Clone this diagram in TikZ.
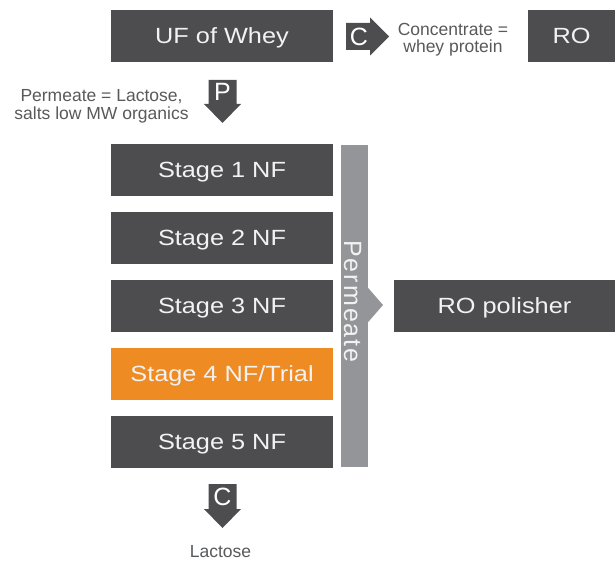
\documentclass[tikz,border=0pt]{standalone}
\usepackage{fontspec}
\setmainfont{Liberation Sans}
\newfontfamily\boxfont[FakeStretch=1.15]{Liberation Sans}
\definecolor{darkbox}{RGB}{77,77,79}
\definecolor{orangebox}{RGB}{238,139,35}
\definecolor{barcol}{RGB}{147,149,152}
\definecolor{boxtext}{RGB}{242,242,242}
\definecolor{lbltext}{RGB}{88,89,91}
\newcommand\spc{\kern2pt}
\begin{document}
\begin{tikzpicture}[x=1pt,y=-1pt,
  box/.style={fill=darkbox, text=boxtext, minimum height=52pt, inner sep=0pt,
    text height=15.75pt, text depth=0pt, font=\boxfont\fontsize{22}{26}\selectfont},
  stagebox/.style={box, minimum width=222pt},
  lbl/.style={text=lbltext, font=\fontsize{17.5}{18}\selectfont, inner sep=0pt, anchor=base},
  letter/.style={text=white, font=\fontsize{25}{28}\selectfont, text height=18pt, text depth=0pt, inner sep=0pt},
  blockarrow/.style={fill=darkbox}]
\useasboundingbox (0,0) rectangle (615,561);

% top row
\node[stagebox] (uf) at (222,36) {UF of Whey};
\node[box, minimum width=87pt] (ro) at (571.5,36) {RO};
\fill[blockarrow] (346,23) -- (370,23) -- (370,17.5) -- (389,36.5) -- (370,55.5) -- (370,50) -- (346,50) -- cycle;
\node[letter] (cA) at (359,36.5) {C};
\node[lbl] (conc1) at (453,36) {Concentrate =};
\node[lbl] (conc2) at (453,53) {whey protein};

% P arrow
\fill[blockarrow] (208.5,80) -- (236.5,80) -- (236.5,104) -- (241,104) -- (222.5,123) -- (204,104) -- (208.5,104) -- cycle;
\node[letter] (pA) at (222.5,92) {P};
\node[lbl] (perm1) at (101.5,102) {Permeate = Lactose,};
\node[lbl] (perm2) at (101.5,120) {salts low MW organics};

% stages
\node[stagebox] (s1) at (222,170) {Stage 1 NF};
\node[stagebox] (s2) at (222,238) {Stage 2 NF};
\node[stagebox] (s3) at (222,306) {Stage 3 NF};
\node[stagebox, fill=orangebox] (s4) at (222,373.5) {Stage 4 NF/Trial};
\node[stagebox] (s5) at (222,442) {Stage 5 NF};

% permeate bar
\node[fill=barcol, minimum width=27pt, minimum height=322pt, inner sep=0pt] (bar) at (354.5,306) {};
\fill[barcol] (bar.east |- 0,288) -- (383,305) -- (bar.east |- 0,322) -- cycle;
\node[rotate=-90, text=boxtext, inner sep=0pt, text height=18pt, text depth=0pt,
  font=\fontsize{25}{28}\selectfont] (permtxt) at (353,301.5)
  {P\spc e\spc r\spc m\spc e\spc a\spc t\spc e};

% RO polisher
\node[box, minimum width=221pt] (rop) at (504.5,306) {RO polisher};

% bottom C arrow
\fill[blockarrow] (208.5,484) -- (236.5,484) -- (236.5,509) -- (241,509) -- (222.5,528) -- (204,509) -- (208.5,509) -- cycle;
\node[letter] (cB) at (222.5,496.5) {C};
\node[lbl] (lact) at (220.5,557) {Lactose};
\end{tikzpicture}
\end{document}
